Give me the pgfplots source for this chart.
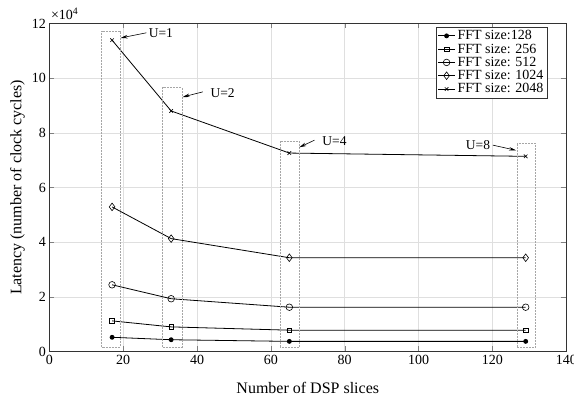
\documentclass[border=0pt]{standalone}
\usepackage{pgfplots}
\pgfplotsset{compat=1.18}
\usepackage{fontspec}
\setmainfont{Liberation Serif}
\usetikzlibrary{arrows.meta}
\begin{document}
\begin{tikzpicture}
\path[use as bounding box] (-49.3pt,-49pt) rectangle (524.7pt,351.5pt);
\begin{axis}[
  scale only axis, width=517pt, height=328pt,
  xmin=0, xmax=140, ymin=0, ymax=12,
  xtick={0,20,...,140}, ytick={0,2,...,12},
  clip=false,
  grid=major, grid style={gray!25, line width=0.5pt},
  tick align=inside, axis line style={line width=0.6pt, black!80},
  major tick length=5pt,
  xticklabel={\rmfamily\pgfmathprintnumber[assume math mode=true]{\tick}},
  yticklabel={\rmfamily\pgfmathprintnumber[assume math mode=true]{\tick}},
  tick label style={font=\fontsize{14}{16}\selectfont},
  xlabel={Number of DSP slices}, ylabel={Latency (number of clock cycles)},
  label style={font=\fontsize{16}{18}\selectfont},
  xlabel style={at={(axis description cs:0.5,0)}, anchor=base, yshift=-42pt},
  legend style={at={(0.963,0.99)}, anchor=north east, font=\fontsize{14}{15}\selectfont,
    draw=black!80, row sep=-1.5pt, inner sep=1.5pt},
  legend cell align=left,
]
\addplot[black, line width=0.8pt, mark=*, mark size=2pt, mark options={fill=black}] coordinates {(17,0.52) (33,0.43) (65,0.37) (129,0.37)};
\addlegendentry{FFT size:128}
\addplot[black, line width=0.8pt, mark=square, mark size=2.3pt, mark options={line width=0.6pt}] coordinates {(17,1.12) (33,0.90) (65,0.78) (129,0.78)};
\addlegendentry{FFT size: 256}
\addplot[black, line width=0.8pt, mark=o, mark size=3.3pt, mark options={line width=0.6pt}] coordinates {(17,2.44) (33,1.93) (65,1.62) (129,1.62)};
\addlegendentry{FFT size: 512}
\addplot[black, line width=0.8pt, mark=diamond, mark size=3.8pt, mark options={line width=0.6pt}] coordinates {(17,5.29) (33,4.13) (65,3.43) (129,3.43)};
\addlegendentry{FFT size: 1024}
\addplot[black, line width=0.8pt, mark=x, mark size=2.5pt, mark options={line width=0.6pt}] coordinates {(17,11.39) (33,8.80) (65,7.26) (129,7.14)};
\addlegendentry{FFT size: 2048}
% dashed boxes
\draw[gray!70, line width=0.6pt, dash pattern=on 2pt off 1pt] (axis cs:14.2,0.15) rectangle (axis cs:19.2,11.72);
\draw[gray!70, line width=0.6pt, dash pattern=on 2pt off 1pt] (axis cs:30.7,0.15) rectangle (axis cs:35.9,9.65);
\draw[gray!70, line width=0.6pt, dash pattern=on 2pt off 1pt] (axis cs:62.5,0.15) rectangle (axis cs:67.6,7.70);
\draw[gray!70, line width=0.6pt, dash pattern=on 2pt off 1pt] (axis cs:126.6,0.15) rectangle (axis cs:131.6,7.63);
% annotations
\draw[-{Stealth[length=7pt,width=3.5pt]}, line width=0.6pt] (axis cs:26.3,11.66) -- (axis cs:19.3,11.47);
\node[anchor=west, inner sep=0pt, font=\fontsize{13.5}{15}\selectfont] at (axis cs:26.9,11.66) {U=1};
\draw[-{Stealth[length=7pt,width=3.5pt]}, line width=0.6pt] (axis cs:41.6,9.50) -- (axis cs:36.1,9.31);
\node[anchor=west, inner sep=0pt, font=\fontsize{13.5}{15}\selectfont] at (axis cs:43.6,9.46) {U=2};
\draw[-{Stealth[length=7pt,width=3.5pt]}, line width=0.6pt] (axis cs:71.8,7.73) -- (axis cs:67.7,7.47);
\node[anchor=west, inner sep=0pt, font=\fontsize{13.5}{15}\selectfont] at (axis cs:73.9,7.70) {U=4};
\draw[-{Stealth[length=7pt,width=3.5pt]}, line width=0.6pt] (axis cs:120.1,7.55) -- (axis cs:126.4,7.36);
\node[anchor=east, inner sep=0pt, font=\fontsize{13.5}{15}\selectfont] at (axis cs:119.4,7.55) {U=8};
\node[anchor=base west, inner sep=0pt, font=\fontsize{14}{16}\selectfont] at (rel axis cs:0.003,1.012) {×10\textsuperscript{4}};
\end{axis}
\end{tikzpicture}
\end{document}
